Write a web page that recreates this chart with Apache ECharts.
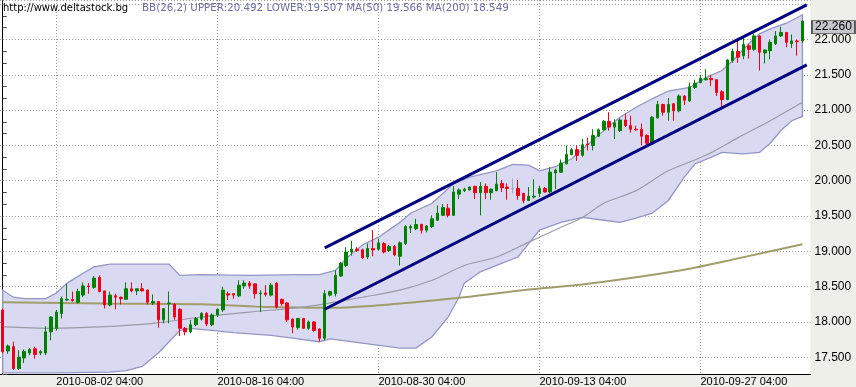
<!DOCTYPE html>
<html><head><meta charset="utf-8">
<script src="https://cdn.jsdelivr.net/npm/echarts@6/dist/echarts.min.js"></script>
<style>html,body{margin:0;padding:0;background:#efefe9}#c{width:856px;height:387px}</style>
</head><body><div id="c"></div>
<script>
// ---- data ----
const tickLabels = ['2010-08-02 04:00','2010-08-16 04:00','2010-08-30 04:00','2010-09-13 04:00','2010-09-27 04:00'];
const headerUrl = 'http://www.deltastock.bg';
const headerInfo = 'BB(26,2) UPPER:20.492 LOWER:19.507 MA(50) 19.566 MA(200) 18.549';
const lastPrice = 22.260;

// [open, close, low, high]
const ohlc = [
[18.17,17.58,17.55,18.19],[17.59,17.66,17.55,17.68],[17.65,17.34,17.32,17.72],[17.34,17.50,17.32,17.60],[17.49,17.58,17.42,17.61],
[17.56,17.61,17.53,17.63],[17.62,17.54,17.48,17.65],[17.56,17.58,17.53,17.60],[17.56,17.86,17.53,17.94],[17.86,18.07,17.74,18.08],
[17.91,18.14,17.88,18.17],[18.12,18.33,18.05,18.36],[18.31,18.32,18.30,18.54],[18.32,18.30,18.29,18.43],[18.28,18.43,18.26,18.47],
[18.38,18.51,18.35,18.56],[18.51,18.50,18.40,18.55],[18.49,18.62,18.47,18.65],[18.63,18.43,18.42,18.66],[18.44,18.24,18.19,18.44],
[18.24,18.38,18.22,18.43],[18.37,18.35,18.18,18.40],[18.35,18.33,18.25,18.36],[18.32,18.47,18.31,18.56],[18.47,18.44,18.42,18.56],
[18.44,18.47,18.38,18.47],[18.47,18.44,18.43,18.55],[18.45,18.28,18.25,18.46],[18.27,18.29,18.24,18.39],[18.29,18.03,17.92,18.29],
[18.03,18.19,17.98,18.19],[18.26,18.27,17.98,18.43],[18.25,18.07,18.03,18.27],[18.18,17.91,17.80,18.19],[17.91,17.86,17.81,17.93],
[17.86,17.96,17.84,18.03],[17.96,18.05,17.94,18.07],[18.04,18.12,18.02,18.14],[18.12,17.97,17.94,18.14],[17.96,18.10,17.94,18.12],
[18.10,18.18,18.07,18.19],[18.17,18.45,18.14,18.50],[18.40,18.38,18.31,18.43],[18.40,18.38,18.33,18.41],[18.37,18.52,18.35,18.59],
[18.51,18.55,18.47,18.59],[18.55,18.51,18.47,18.58],[18.54,18.40,18.33,18.54],[18.40,18.41,18.14,18.45],[18.41,18.39,18.36,18.52],
[18.38,18.52,18.36,18.55],[18.55,18.21,18.19,18.56],[18.32,18.26,18.23,18.33],[18.27,18.03,18.00,18.28],[18.04,17.93,17.84,18.05],
[17.92,18.05,17.89,18.05],[18.05,17.91,17.90,18.05],[17.91,18.00,17.89,18.02],[18.00,17.88,17.86,18.01],[17.90,17.77,17.72,17.91],
[17.77,18.40,17.74,18.45],[18.38,18.43,18.36,18.44],[18.40,18.66,18.36,18.73],[18.65,18.83,18.64,18.85],[18.80,18.99,18.78,19.06],
[18.99,19.03,18.94,19.15],[19.03,19.01,18.99,19.06],[19.02,18.91,18.89,19.04],[18.92,19.04,18.89,19.11],[19.04,19.02,18.93,19.30],
[19.03,19.12,19.01,19.18],[19.11,18.99,18.97,19.13],[19.01,19.07,18.99,19.09],[19.07,18.95,18.93,19.09],[18.93,19.12,18.80,19.14],
[19.11,19.35,19.09,19.37],[19.33,19.35,19.26,19.38],[19.32,19.38,19.30,19.46],[19.38,19.30,19.25,19.39],[19.30,19.36,19.27,19.37],
[19.35,19.46,19.33,19.51],[19.44,19.54,19.43,19.65],[19.51,19.62,19.51,19.67],[19.61,19.51,19.48,19.67],[19.51,19.84,19.51,19.92],
[19.81,19.87,19.74,19.89],[19.86,19.88,19.84,19.90],[19.87,19.91,19.86,19.92],[19.92,19.83,19.74,19.93],[19.83,19.92,19.51,19.98],
[19.92,19.83,19.74,19.96],[19.83,19.88,19.73,19.89],[19.86,19.95,19.85,20.12],[19.96,19.90,19.84,20.01],[19.91,19.89,19.73,19.96],
[19.89,19.89,19.82,20.03],[19.89,19.79,19.73,20.01],[19.82,19.72,19.68,19.83],[19.72,19.78,19.71,19.91],[19.77,19.78,19.75,20.02],
[19.82,19.89,19.77,19.93],[19.89,19.84,19.83,19.91],[19.84,20.12,19.82,20.19],[20.11,20.15,19.88,20.17],[20.12,20.25,20.11,20.30],
[20.24,20.37,20.23,20.50],[20.37,20.44,20.36,20.46],[20.44,20.36,20.28,20.50],[20.36,20.51,20.34,20.59],[20.52,20.51,20.43,20.61],
[20.50,20.64,20.43,20.73],[20.63,20.72,20.62,20.74],[20.72,20.84,20.71,20.86],[20.84,20.76,20.71,20.97],[20.76,20.82,20.59,20.87],
[20.71,20.86,20.69,20.88],[20.86,20.78,20.76,20.95],[20.78,20.73,20.68,20.92],[20.73,20.72,20.71,20.78],[20.73,20.63,20.50,20.81],
[20.64,20.53,20.50,20.66],[20.52,20.90,20.51,20.91],[20.89,21.08,20.88,21.13],[21.08,20.97,20.92,21.09],[20.97,21.08,20.85,21.17],
[21.09,20.99,20.85,21.10],[20.99,21.20,20.97,21.22],[21.20,21.14,21.07,21.21],[21.13,21.33,21.12,21.39],[21.32,21.38,21.30,21.43],
[21.39,21.45,21.38,21.50],[21.43,21.45,21.42,21.58],[21.45,21.43,21.34,21.50],[21.43,21.25,21.20,21.44],[21.26,21.15,21.03,21.28],
[21.15,21.71,21.14,21.72],[21.70,21.83,21.67,21.87],[21.83,21.75,21.67,21.98],[21.77,21.93,21.72,22.03],[21.91,21.86,21.73,21.94],
[21.86,22.05,21.84,22.08],[22.05,21.82,21.56,22.06],[21.81,21.85,21.66,21.86],[21.84,21.96,21.72,22.00],[21.94,22.05,21.92,22.12],
[22.05,22.10,22.04,22.18],[22.10,21.96,21.89,22.10],[21.94,21.98,21.88,22.07],[21.98,21.97,21.77,22.00],[21.98,22.26,21.95,22.27]
];

// [bar index, value]
const bbUpper = [[0,18.45],[2,18.35],[4,18.33],[8,18.33],[10,18.41],[12,18.55],[15,18.69],[17,18.78],[20,18.82],[31,18.82],[33,18.66],
[37,18.67],[46,18.66],[55,18.67],[59,18.67],[62,18.73],[64,18.90],[67,19.09],[70,19.20],[74,19.41],[76,19.54],[80,19.68],[84,19.96],
[87,20.05],[92,20.14],[95,20.23],[98,20.22],[100,20.14],[103,20.20],[106,20.31],[112,20.71],[115,20.90],[118,21.04],[121,21.16],
[124,21.27],[128,21.32],[131,21.46],[134,21.56],[136,21.70],[139,21.94],[141,22.08],[143,22.15],[146,22.23],[149,22.35]];
const bbLower = [[0,17.28],[10,17.28],[20,17.29],[23,17.31],[26,17.37],[29,17.56],[31,17.72],[33,17.88],[35,17.91],[39,17.88],
[43,17.85],[50,17.81],[54,17.77],[59,17.72],[61,17.76],[67,17.70],[74,17.63],[77,17.63],[80,17.79],[83,18.07],[85,18.35],[86,18.55],
[89,18.71],[92,18.80],[96,18.92],[98,19.11],[100,19.30],[104,19.41],[108,19.48],[112,19.44],[115,19.41],[118,19.47],[121,19.54],
[124,19.72],[127,20.05],[129,20.24],[132,20.33],[134,20.40],[138,20.38],[141,20.40],[143,20.53],[145,20.71],[147,20.85],[149,20.91]];
const ma50 = [[0,17.93],[9,17.91],[18,17.93],[28,17.98],[37,18.07],[46,18.14],[56,18.21],[61,18.27],[67,18.35],[74,18.45],[80,18.59],
[86,18.80],[92,18.92],[98,19.13],[104,19.34],[108,19.48],[112,19.68],[118,19.86],[124,20.14],[131,20.36],[137,20.61],[143,20.85],[149,21.11]];
const ma200 = [[0,18.28],[19,18.26],[37,18.25],[50,18.21],[61,18.20],[74,18.26],[86,18.35],[98,18.46],[108,18.53],[127,18.74],[137,18.90],[149,19.10]];
const channelUpper = [[60,19.05],[149.8,22.49]];
const channelLower = [[60,18.18],[149.8,21.64]];

// ---- categories (8h bars, weekdays) ----
const categories = [];
(function () {
  const p = n => (n < 10 ? '0' : '') + n;
  let t = Date.UTC(2010, 6, 27, 20);
  while (categories.length < ohlc.length + 1) {
    const d = new Date(t);
    const wd = d.getUTCDay();
    if (wd !== 0 && wd !== 6) categories.push(d.getUTCFullYear() + '-' + p(d.getUTCMonth() + 1) + '-' + p(d.getUTCDate()) + ' ' + p(d.getUTCHours()) + ':00');
    t += 8 * 3600 * 1000;
  }
})();

const chart = echarts.init(document.getElementById('c'), null, {renderer: 'canvas'});
const isTick = (i, v) => tickLabels.indexOf(v) >= 0;
const dotted = {color: '#9a9a9a', type: [1, 2], width: 1};
const lastIndex = ohlc.length - 1;

chart.setOption({
  animation: false,
  backgroundColor: '#efefe9',
  grid: {left: -2, right: 45.5, top: -1, bottom: 13, show: true, backgroundColor: '#ffffff', borderWidth: 0},
  xAxis: [{
    type: 'category', data: categories, boundaryGap: true,
    axisLine: {show: true, onZero: false, lineStyle: {color: '#000', width: 1}},
    axisTick: {show: false, alignWithLabel: true},
    axisLabel: {interval: isTick, align: 'left', margin: 2, fontSize: 11, color: '#000',
      fontFamily: "'Liberation Sans', Arial, sans-serif"},
    splitLine: {show: true, interval: isTick, alignWithLabel: true, lineStyle: dotted}
  }, {
    type: 'value', min: -0.5, max: ohlc.length + 0.5, show: false, splitLine: {show: false}
  }],
  yAxis: {
    type: 'value', position: 'right', min: 17.263, max: 22.559, splitNumber: 10, minInterval: 0.5, maxInterval: 0.5,
    axisLine: {show: true, lineStyle: {color: '#000', width: 1}},
    axisTick: {show: true, length: 6, lineStyle: {color: '#9a9a9a', type: [1, 2]}},
    minorTick: {show: true, splitNumber: 3, length: 4, lineStyle: {color: '#444'}},
    axisLabel: {margin: 4, fontSize: 12, color: '#000', fontFamily: "'Liberation Sans', Arial, sans-serif",
      formatter: v => (Math.abs(v * 2 - Math.round(v * 2)) < 1e-6 && v < 22.4 ? v.toFixed(3) : '')},
    splitLine: {show: true, lineStyle: dotted}
  },
  series: [
    {
      type: 'custom', xAxisIndex: 1, z: 1, silent: true, clip: true,
      data: [[0, 18]],
      renderItem: function (params, api) {
        const pts = bbUpper.map(p => api.coord(p)).concat(bbLower.slice().reverse().map(p => api.coord(p)));
        return {type: 'polygon', shape: {points: pts},
          style: {fill: '#d9d9f1', stroke: '#9595c4', lineWidth: 1.3}};
      }
    },
    {type: 'line', xAxisIndex: 1, z: 2, data: ma200, symbol: 'none', smooth: 0.3, silent: true,
      lineStyle: {color: '#a09e6c', width: 2}},
    {type: 'line', xAxisIndex: 1, z: 2, data: ma50, symbol: 'none', smooth: 0.3, silent: true,
      lineStyle: {color: '#9a9aaa', width: 1.2}},
    {
      type: 'candlestick', xAxisIndex: 0, z: 3, data: ohlc, barWidth: 3, clip: false,
      itemStyle: {color: '#008000', color0: '#f00018', borderColor: '#008000', borderColor0: '#f00018',
        borderColorDoji: '#a6a6c6', borderWidth: 1},
      markPoint: {
        silent: true, animation: false,
        data: [{
          coord: [lastIndex, lastPrice],
          symbol: 'rect', symbolSize: [43, 13], symbolOffset: [31, 6],
          itemStyle: {color: '#c6c6cf', borderColor: '#505050', borderWidth: 1},
          label: {show: true, position: 'inside', formatter: () => lastPrice.toFixed(3),
            color: '#000', fontSize: 12, fontFamily: "'Liberation Sans', Arial, sans-serif"}
        }]
      }
    },
    {type: 'line', xAxisIndex: 1, z: 4, data: channelUpper, symbol: 'none', silent: true,
      lineStyle: {color: '#000080', width: 3}},
    {type: 'line', xAxisIndex: 1, z: 4, data: channelLower, symbol: 'none', silent: true,
      lineStyle: {color: '#000080', width: 3}}
  ],
  graphic: [
    {type: 'text', left: 3, top: 3, z: 10, style: {text: headerUrl, fill: '#000', font: "10px 'DejaVu Sans'"}},
    {type: 'text', left: 142, top: 3, z: 10, style: {text: headerInfo, fill: '#6e6ea6', font: "10.3px 'DejaVu Sans'"}}
  ]
});
</script>
</body></html>
